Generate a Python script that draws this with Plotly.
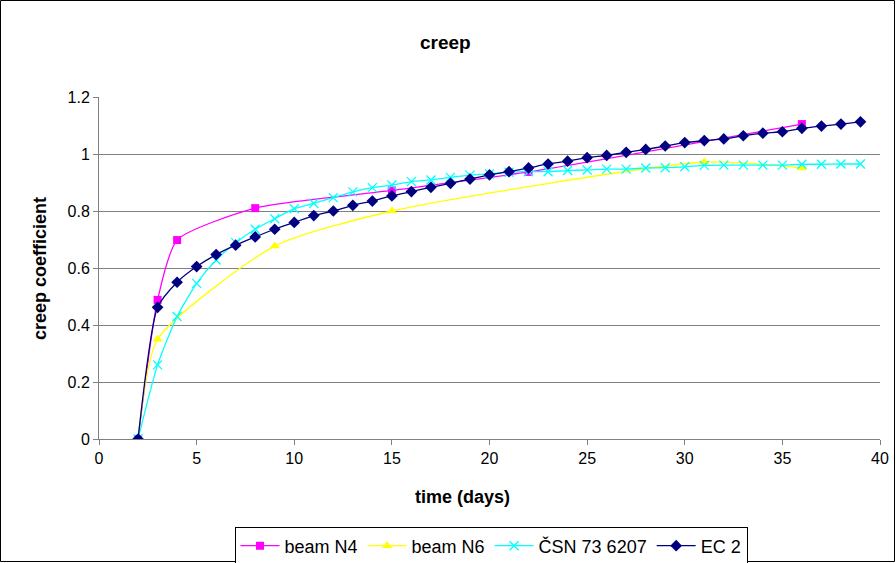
import plotly.graph_objects as go

# ---- data ----
n4_x = [2, 3, 4, 8, 15, 22, 36]
n4_y = [0, 0.488, 0.698, 0.81, 0.872, 0.937, 1.105]

n6_x = [2, 3, 9, 15, 31, 36]
n6_y = [0, 0.35, 0.677, 0.80, 0.972, 0.951]

csn_x = list(range(2, 40))
csn_y = [0, 0.26, 0.43, 0.546, 0.628, 0.689, 0.736, 0.773, 0.808, 0.827, 0.847,
         0.867, 0.882, 0.891, 0.903, 0.909, 0.918, 0.926, 0.930, 0.936, 0.938,
         0.938, 0.942, 0.944, 0.947, 0.947, 0.951, 0.952, 0.955, 0.960, 0.961,
         0.961, 0.961, 0.961, 0.964, 0.964, 0.965, 0.965]

ec2_x = list(range(2, 40))
ec2_y = [0, 0.462, 0.55, 0.605, 0.647, 0.68, 0.709, 0.736, 0.76, 0.784, 0.80,
         0.82, 0.835, 0.853, 0.868, 0.883, 0.897, 0.912, 0.927, 0.938, 0.951,
         0.965, 0.975, 0.987, 0.995, 1.006, 1.016, 1.028, 1.04, 1.047, 1.053,
         1.064, 1.073, 1.078, 1.09, 1.098, 1.105, 1.113]

x_ticks = [0, 5, 10, 15, 20, 25, 30, 35, 40]
y_ticks = [0, 0.2, 0.4, 0.6, 0.8, 1, 1.2]
y_tick_labels = ["0", "0.2", "0.4", "0.6", "0.8", "1", "1.2"]

FONT = "Liberation Sans, Arial, sans-serif"

fig = go.Figure()
fig.add_trace(go.Scatter(x=n4_x, y=n4_y, name="beam N4", mode="lines+markers",
                         line=dict(color="#FF00FF", width=1.3, shape="spline", smoothing=0.6),
                         marker=dict(symbol="square", size=8, color="#FF00FF")))
fig.add_trace(go.Scatter(x=n6_x, y=n6_y, name="beam N6", mode="lines+markers",
                         line=dict(color="#FFFF00", width=1.3, shape="spline", smoothing=0.6),
                         marker=dict(symbol="triangle-up", size=9, color="#FFFF00")))
fig.add_trace(go.Scatter(x=csn_x, y=csn_y, name="ČSN 73 6207", mode="lines+markers",
                         line=dict(color="#00FFFF", width=1.3, shape="spline", smoothing=0.6),
                         marker=dict(symbol="x-thin", size=9, color="#00FFFF",
                                     line=dict(color="#00FFFF", width=1.3))))
fig.add_trace(go.Scatter(x=ec2_x, y=ec2_y, name="EC 2", mode="lines+markers",
                         line=dict(color="#000080", width=1.3, shape="spline", smoothing=0.6),
                         marker=dict(symbol="diamond", size=9, color="#000080")))

W, H = 896, 563
ml, mr, mt, mb = 99, 16, 97, 124
pw, ph = W - ml - mr, H - mt - mb

def px_x(p):
    return (p - ml) / pw

def px_y(p):
    return (H - mb - p) / ph

fig.update_layout(
    width=W, height=H,
    margin=dict(l=ml, r=mr, t=mt, b=mb, autoexpand=False),
    paper_bgcolor="white", plot_bgcolor="white",
    font=dict(family=FONT, size=16, color="black"),
    showlegend=True,
    xaxis=dict(range=[0, 40], tickvals=x_ticks, showgrid=False, zeroline=False,
               showline=True, linecolor="#808080", linewidth=1, automargin=False,
               ticks="outside", ticklen=5, tickcolor="#808080",
               tickfont=dict(size=16)),
    yaxis=dict(range=[0, 1.2], tickvals=y_ticks, ticktext=y_tick_labels,
               showgrid=True, gridcolor="#808080", gridwidth=1, zeroline=False,
               showline=True, linecolor="#808080", linewidth=1, automargin=False,
               ticks="outside", ticklen=5, tickcolor="#808080",
               tickfont=dict(size=16)),
    legend=dict(orientation="h", x=px_x(491), xanchor="center",
                y=px_y(546), yanchor="middle",
                bordercolor="black", borderwidth=1, bgcolor="white",
                font=dict(size=18), itemwidth=39, tracegroupgap=0),
    annotations=[
        dict(text="<b>creep</b>", xref="paper", yref="paper", x=px_x(445), y=px_y(42),
             showarrow=False, xanchor="center", yanchor="middle", font=dict(size=19)),
        dict(text="<b>time (days)</b>", xref="paper", yref="paper", x=px_x(462), y=px_y(497),
             showarrow=False, xanchor="center", yanchor="middle", font=dict(size=18)),
        dict(text="<b>creep coefficient</b>", xref="paper", yref="paper", x=px_x(40), y=px_y(268),
             showarrow=False, xanchor="center", yanchor="middle", textangle=-90,
             font=dict(size=18)),
    ],
    shapes=[dict(type="rect", xref="paper", yref="paper",
                 x0=px_x(0.5), x1=px_x(W - 1.5),
                 y0=px_y(H - 1.5), y1=px_y(0.5),
                 line=dict(color="black", width=1))],
)

fig.write_html("out.html")
